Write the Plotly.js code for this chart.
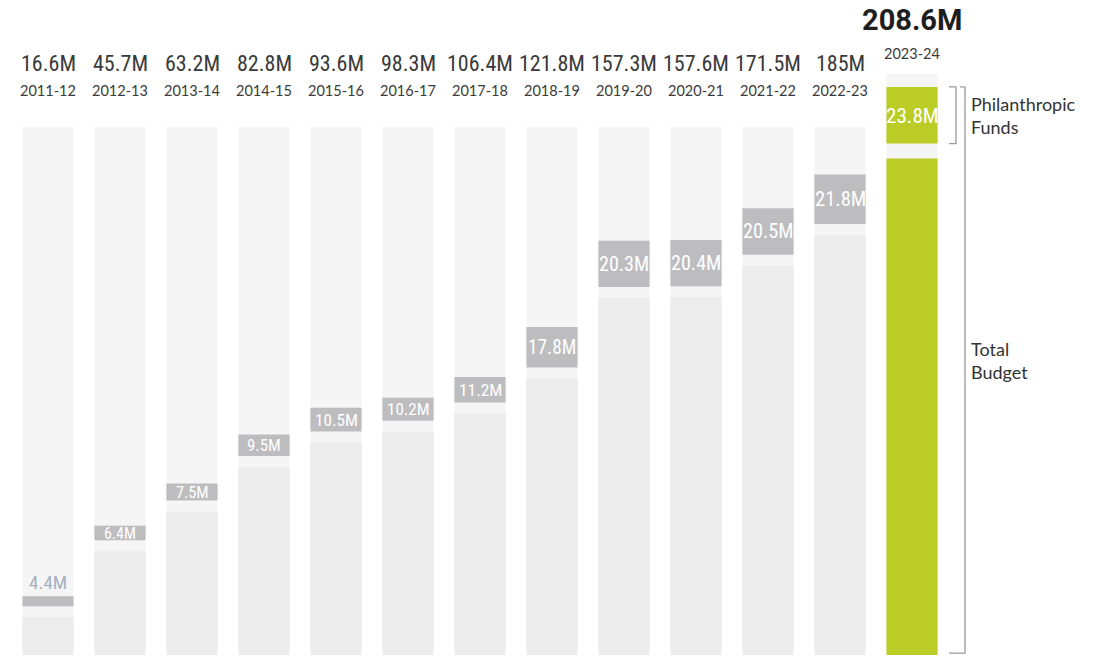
<!DOCTYPE html>
<html>
<head>
<meta charset="utf-8">
<script src="https://cdn.plot.ly/plotly-3.0.1.min.js"></script>
<style>
  html, body { margin: 0; padding: 0; background: #ffffff; }
  #chart { width: 1104px; height: 659px; }
</style>
</head>
<body>
<div id="chart"></div>
<script>
// ---- data ----
const years = ['2011-12','2012-13','2013-14','2014-15','2015-16','2016-17','2017-18','2018-19','2019-20','2020-21','2021-22','2022-23','2023-24'];
const totalBudget = [16.6, 45.7, 63.2, 82.8, 93.6, 98.3, 106.4, 121.8, 157.3, 157.6, 171.5, 185, 208.6];
const philanthropicFunds = [4.4, 6.4, 7.5, 9.5, 10.5, 10.2, 11.2, 17.8, 20.3, 20.4, 20.5, 21.8, 23.8];

// ---- geometry / style constants ----
const W = 1104, H = 659;
const M = { l: 11.5, r: 156, t: 0, b: 4 };
const PLOT_H = H - M.t - M.b;            // 655
const PLOT_W = W - M.l - M.r;
const PX_MAIN = 2.27;                    // px per million, past years
const PX_HI = 2.38;                      // px per million, highlighted year
const BG_MAIN_PX = 528, BG_HI_PX = 581;  // background column heights
const GAP_MAIN_PX = 11, GAP_HI_PX = 15;  // gap between budget and funds blocks

const C_BG = '#f5f5f5', C_BASE = '#ececec', C_FUND = '#bdbdc0', C_GREEN = '#bccc26';
const C_TEXT = '#3a3a3a';
const NARROW = '"Liberation Sans Narrow", "Roboto Condensed", Roboto, sans-serif';
const GEO = 'Lato, "Open Sans", sans-serif';

const n = years.length;
const last = n - 1;
const yMaxMain = PLOT_H / PX_MAIN, yMaxHi = PLOT_H / PX_HI;
const gapMain = GAP_MAIN_PX / PX_MAIN, gapHi = GAP_HI_PX / PX_HI;

const pastYears = years.slice(0, last);
const pastTotals = totalBudget.slice(0, last);
const pastFunds = philanthropicFunds.slice(0, last);

const BW = 0.71;
const common = { type: 'bar', width: BW, hoverinfo: 'skip', marker: { line: { width: 0 } } };

const traces = [
  Object.assign({}, common, { x: pastYears, y: pastYears.map(() => BG_MAIN_PX / PX_MAIN), marker: { color: C_BG }, yaxis: 'y' }),
  Object.assign({}, common, { x: pastYears, y: pastTotals, marker: { color: C_BASE }, yaxis: 'y' }),
  Object.assign({}, common, { x: pastYears, y: pastFunds, base: pastTotals.map(v => v + gapMain), marker: { color: C_FUND }, yaxis: 'y' }),
  Object.assign({}, common, { x: [years[last]], y: [BG_HI_PX / PX_HI], marker: { color: C_BG }, yaxis: 'y2' }),
  Object.assign({}, common, { x: [years[last]], y: [totalBudget[last]], marker: { color: C_GREEN }, yaxis: 'y2' }),
  Object.assign({}, common, { x: [years[last]], y: [philanthropicFunds[last]], base: [totalBudget[last] + gapHi], marker: { color: C_GREEN }, yaxis: 'y2' })
];

const pyToPaper = py => (H - M.b - py) / PLOT_H;
const pxToPaper = px => (px - M.l) / PLOT_W;

const annotations = [];
years.forEach((yr, i) => {
  const hi = i === last;
  annotations.push({
    xref: 'x', yref: 'paper', x: yr, y: pyToPaper(hi ? 20 : 63), yanchor: 'middle', xanchor: 'center',
    text: hi ? '<b>' + totalBudget[i] + 'M</b>' : totalBudget[i] + 'M', showarrow: false,
    font: hi ? { family: 'Roboto, sans-serif', size: 29, color: '#1e1e1e' } : { family: NARROW, size: 22, color: C_TEXT }
  });
  annotations.push({
    xref: 'x', yref: 'paper', x: yr, y: pyToPaper(hi ? 53 : 90), yanchor: 'middle', xanchor: 'center',
    text: yr, showarrow: false, font: { family: GEO, size: 14.5, color: C_TEXT }
  });
  const px = hi ? PX_HI : PX_MAIN;
  const gap = hi ? gapHi : gapMain;
  const f = philanthropicFunds[i];
  const boxPx = f * px;
  const size = Math.min(22, 14 + 0.3 * f);
  if (boxPx < 14) {
    annotations.push({
      xref: 'x', yref: hi ? 'y2' : 'y', x: yr, y: totalBudget[i] + gap + f, yanchor: 'bottom', yshift: 0,
      text: f + 'M', showarrow: false, font: { family: NARROW, size: 19, color: '#a5b1c0' }
    });
  } else {
    annotations.push({
      xref: 'x', yref: hi ? 'y2' : 'y', x: yr, y: totalBudget[i] + gap + f / 2, yanchor: 'middle',
      text: f + 'M', showarrow: false, font: { family: NARROW, size: size, color: '#ffffff' }
    });
  }
});

// legend-like brackets next to highlighted column
const fTop = totalBudget[last] + gapHi + philanthropicFunds[last];
const fBot = totalBudget[last] + gapHi;
const xa = pxToPaper(949), xb = pxToPaper(956), xc = pxToPaper(960), xd = pxToPaper(965);
const shapes = [
  { type: 'path', xref: 'paper', yref: 'y2', path: `M ${xa},${fTop} L ${xb},${fTop} L ${xb},${fBot} L ${xa},${fBot}`, line: { color: '#9a9a9a', width: 1.3 } },
  { type: 'path', xref: 'paper', yref: 'y2', path: `M ${xc},${fTop} L ${xd},${fTop} L ${xd},${0.8} L ${xa},${0.8}`, line: { color: '#9a9a9a', width: 1.3 } }
];
annotations.push({
  xref: 'paper', yref: 'y2', x: pxToPaper(969), y: (fTop + fBot) / 2, xanchor: 'left', yanchor: 'middle', align: 'left',
  text: 'Philanthropic<br>Funds', showarrow: false, font: { family: GEO, size: 18, color: '#333333' }
});
annotations.push({
  xref: 'paper', yref: 'paper', x: pxToPaper(969), y: pyToPaper(360), xanchor: 'left', yanchor: 'middle', align: 'left',
  text: 'Total<br>Budget', showarrow: false, font: { family: GEO, size: 18, color: '#333333' }
});

const layout = {
  width: W, height: H,
  margin: M,
  paper_bgcolor: '#ffffff', plot_bgcolor: '#ffffff',
  barmode: 'overlay',
  showlegend: false,
  hovermode: false,
  xaxis: { type: 'category', categoryorder: 'array', categoryarray: years, range: [-0.5, n - 0.5], visible: false, fixedrange: true },
  yaxis: { range: [0, yMaxMain], visible: false, fixedrange: true },
  yaxis2: { range: [0, yMaxHi], overlaying: 'y', visible: false, fixedrange: true },
  annotations: annotations,
  shapes: shapes
};

Plotly.newPlot('chart', traces, layout, { displayModeBar: false, staticPlot: true });
</script>
</body>
</html>
